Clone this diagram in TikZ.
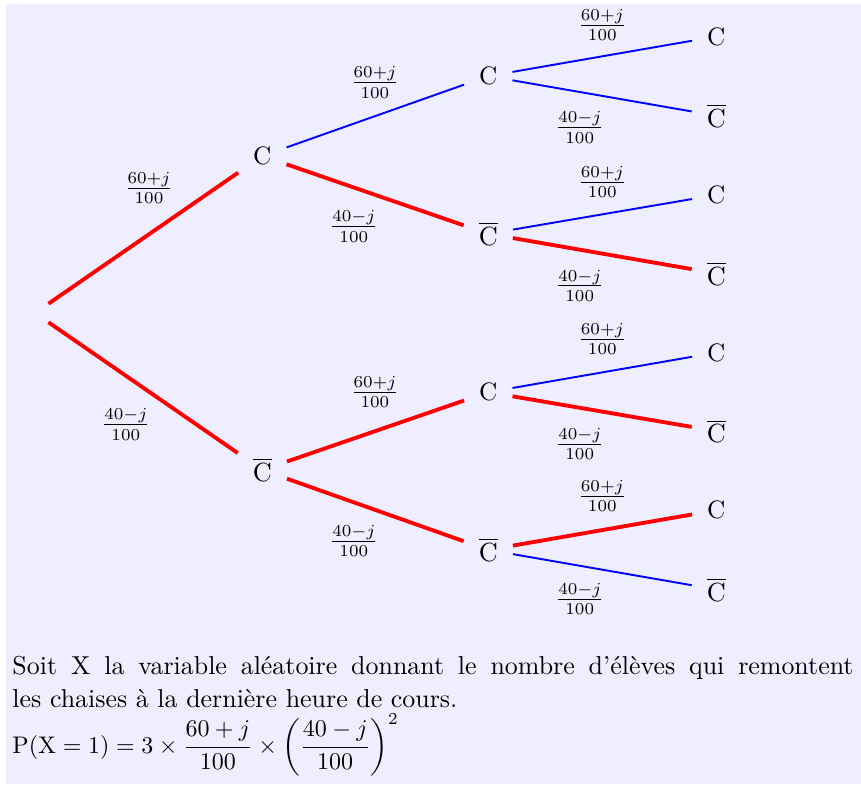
\documentclass[tikz,border=0pt]{standalone}
\usepackage{amsmath}
\definecolor{fond}{RGB}{238,238,255}

\begin{document}
\begin{tikzpicture}[every node/.style={font=\fontsize{10.5}{13}\selectfont},
  ev/.style={inner sep=6.1pt},
  rouge/.style={red,line width=1.6pt},
  bleu/.style={blue,line width=.8pt}]
\useasboundingbox (-0.513,4.585) rectangle (12.100,-6.900);
\fill[fond] (-0.425,4.526) rectangle (12.100,-6.900);
\begin{scope}
\clip (-0.425,4.468) rectangle (12.100,-6.900);
% noeuds de l'arbre
\node[inner sep=0pt,minimum width=10.8pt,minimum height=7.5pt] (r) at (0,0) {};
\node[ev] (a1) at (3.33,2.30) {C};
\node[ev] (a2) at (3.33,-2.30) {$\overline{\mathrm{C}}$};
\node[ev] (b1) at (6.64,3.47) {C};
\node[ev] (b2) at (6.64,1.16) {$\overline{\mathrm{C}}$};
\node[ev] (b3) at (6.64,-1.16) {C};
\node[ev] (b4) at (6.64,-3.47) {$\overline{\mathrm{C}}$};
\node[ev] (c1) at (9.98,4.05) {C};
\node[ev] (c2) at (9.98,2.89) {$\overline{\mathrm{C}}$};
\node[ev] (c3) at (9.98,1.73) {C};
\node[ev] (c4) at (9.98,0.58) {$\overline{\mathrm{C}}$};
\node[ev] (c5) at (9.98,-0.58) {C};
\node[ev] (c6) at (9.98,-1.73) {$\overline{\mathrm{C}}$};
\node[ev] (c7) at (9.98,-2.89) {C};
\node[ev] (c8) at (9.98,-4.05) {$\overline{\mathrm{C}}$};
% branches
\draw[rouge] (r)--(a1);
\draw[rouge] (r)--(a2);
\draw[bleu] (a1)--(b1);
\draw[rouge] (a1)--(b2);
\draw[rouge] (a2)--(b3);
\draw[rouge] (a2)--(b4);
\draw[bleu] (b1)--(c1);
\draw[bleu] (b1)--(c2);
\draw[bleu] (b2)--(c3);
\draw[rouge] (b2)--(c4);
\draw[bleu] (b3)--(c5);
\draw[rouge] (b3)--(c6);
\draw[rouge] (b4)--(c7);
\draw[bleu] (b4)--(c8);
% probabilites
\node (p1) at (1.67,1.83) {$\frac{60+j}{100}$};
\node (p2) at (1.33,-1.63) {$\frac{40-j}{100}$};
\node (p3) at (4.98,3.38) {$\frac{60+j}{100}$};
\node (p4) at (4.67,1.27) {$\frac{40-j}{100}$};
\node (p5) at (4.98,-1.16) {$\frac{60+j}{100}$};
\node (p6) at (4.67,-3.34) {$\frac{40-j}{100}$};
\node (p7) at (8.31,4.22) {$\frac{60+j}{100}$};
\node (p8) at (7.98,2.72) {$\frac{40-j}{100}$};
\node (p9) at (8.31,1.92) {$\frac{60+j}{100}$};
\node (p10) at (7.98,0.40) {$\frac{40-j}{100}$};
\node (p11) at (8.31,-0.38) {$\frac{60+j}{100}$};
\node (p12) at (7.98,-1.92) {$\frac{40-j}{100}$};
\node (p13) at (8.31,-2.68) {$\frac{60+j}{100}$};
\node (p14) at (7.98,-4.19) {$\frac{40-j}{100}$};
\end{scope}
% texte
\node[anchor=north west,inner sep=0pt,text width=12.32cm,align=justify,
  font=\fontsize{10.8}{13.75}\selectfont] (txt) at (-0.337,-5.02)
  {Soit X la variable aléatoire donnant le nombre d'élèves qui remontent\linebreak
   les chaises à la dernière heure de cours.};
\node[anchor=base west,inner sep=0pt,font=\fontsize{10}{12}\selectfont] (pX) at (-0.337,-6.446)
  {$\mathrm{P}(\mathrm{X}=1)=3\times\dfrac{60+j}{100}\times\left(\dfrac{40-j}{100}\right)^{2}$};
\end{tikzpicture}
\end{document}
